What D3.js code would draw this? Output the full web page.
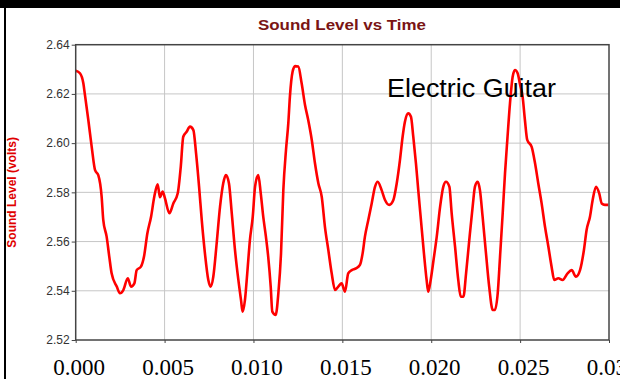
<html>
<head>
    <title>Sound Level vs Time</title>
    <script src="https://cdn.jsdelivr.net/npm/d3@7"></script>
    <style>
        body { margin: 0; background: #fff; }
        svg { display: block; }
    </style>
</head>
<body>
<div id="graph"></div>
<script>
    // time (s) and sound level (volts)
    const times = [
        0.00000, 0.00024, 0.00043, 0.00052, 0.00071, 0.00090, 0.00109, 0.00127, 0.00146, 0.00155,
        0.00174, 0.00189, 0.00202, 0.00231, 0.00249, 0.00268, 0.00293, 0.00311, 0.00330, 0.00343,
        0.00367, 0.00384, 0.00403, 0.00424, 0.00442, 0.00461, 0.00474, 0.00489, 0.00502, 0.00527,
        0.00549, 0.00574, 0.00591, 0.00605, 0.00624, 0.00643, 0.00662, 0.00677, 0.00694, 0.00709,
        0.00727, 0.00746, 0.00759, 0.00774, 0.00793, 0.00812, 0.00830, 0.00845, 0.00862, 0.00878,
        0.00896, 0.00915, 0.00930, 0.00939, 0.00952, 0.00965, 0.00980, 0.00996, 0.01009, 0.01027,
        0.01041, 0.01055, 0.01070, 0.01083, 0.01097, 0.01106, 0.01125, 0.01140, 0.01155, 0.01168,
        0.01183, 0.01196, 0.01205, 0.01220, 0.01234, 0.01252, 0.01271, 0.01290, 0.01308, 0.01328,
        0.01346, 0.01365, 0.01384, 0.01402, 0.01421, 0.01440, 0.01459, 0.01477, 0.01496, 0.01515,
        0.01533, 0.01553, 0.01577, 0.01599, 0.01614, 0.01627, 0.01646, 0.01665, 0.01684, 0.01699,
        0.01721, 0.01740, 0.01764, 0.01787, 0.01806, 0.01824, 0.01839, 0.01852, 0.01871, 0.01886,
        0.01899, 0.01914, 0.01927, 0.01942, 0.01959, 0.01974, 0.01983, 0.01997, 0.02012, 0.02031,
        0.02050, 0.02068, 0.02083, 0.02102, 0.02115, 0.02134, 0.02152, 0.02166, 0.02181, 0.02196,
        0.02214, 0.02233, 0.02246, 0.02261, 0.02274, 0.02289, 0.02308, 0.02326, 0.02346, 0.02358,
        0.02374, 0.02387, 0.02402, 0.02415, 0.02428, 0.02443, 0.02458, 0.02471, 0.02486, 0.02499,
        0.02514, 0.02527, 0.02540, 0.02565, 0.02584, 0.02602, 0.02621, 0.02640, 0.02659, 0.02677,
        0.02692, 0.02715, 0.02739, 0.02767, 0.02790, 0.02814, 0.02837, 0.02859, 0.02874, 0.02893,
        0.02908, 0.02927, 0.02945, 0.02959, 0.02977, 0.02996
    ];
    const volts = [
        2.6294, 2.6284, 2.6243, 2.6196, 2.6094, 2.5985, 2.5890, 2.5870, 2.5782, 2.5688,
        2.5620, 2.5538, 2.5471, 2.5417, 2.5390, 2.5403, 2.5451, 2.5417, 2.5430, 2.5484,
        2.5498, 2.5538, 2.5633, 2.5701, 2.5782, 2.5833, 2.5780, 2.5803, 2.5776, 2.5715,
        2.5755, 2.5796, 2.5904, 2.6026, 2.6046, 2.6067, 2.6053, 2.5959, 2.5823, 2.5688,
        2.5552, 2.5444, 2.5417, 2.5457, 2.5593, 2.5742, 2.5837, 2.5870, 2.5837, 2.5715,
        2.5566, 2.5444, 2.5362, 2.5315, 2.5362, 2.5471, 2.5606, 2.5701, 2.5823, 2.5870,
        2.5796, 2.5701, 2.5620, 2.5538, 2.5417, 2.5315, 2.5302, 2.5390, 2.5552, 2.5809,
        2.5972, 2.6081, 2.6189, 2.6290, 2.6313, 2.6311, 2.6243, 2.6155, 2.6094, 2.6013,
        2.5918, 2.5837, 2.5782, 2.5660, 2.5566, 2.5471, 2.5403, 2.5417, 2.5430, 2.5396,
        2.5471, 2.5484, 2.5491, 2.5505, 2.5552, 2.5620, 2.5688, 2.5755, 2.5823, 2.5843,
        2.5809, 2.5769, 2.5749, 2.5769, 2.5837, 2.5931, 2.6026, 2.6087, 2.6121, 2.6107,
        2.6026, 2.5918, 2.5809, 2.5688, 2.5552, 2.5444, 2.5396, 2.5444, 2.5520, 2.5620,
        2.5742, 2.5823, 2.5843, 2.5823, 2.5715, 2.5579, 2.5444, 2.5376, 2.5376, 2.5471,
        2.5606, 2.5742, 2.5823, 2.5843, 2.5809, 2.5701, 2.5552, 2.5417, 2.5322, 2.5322,
        2.5390, 2.5538, 2.5715, 2.5877, 2.6013, 2.6162, 2.6270, 2.6297, 2.6284, 2.6240,
        2.6189, 2.6094, 2.6013, 2.5985, 2.5918, 2.5837, 2.5755, 2.5660, 2.5579, 2.5498,
        2.5444, 2.5451, 2.5444, 2.5471, 2.5484, 2.5457, 2.5484, 2.5566, 2.5647, 2.5701,
        2.5769, 2.5823, 2.5796, 2.5755, 2.5749, 2.5749
    ];
    const xTicks = [0, 0.005, 0.010, 0.015, 0.020, 0.025, 0.030];
    const yTicks = [2.52, 2.54, 2.56, 2.58, 2.60, 2.62, 2.64];
    const title = "Sound Level vs Time";
    const yTitle = "Sound Level (volts)";
    const note = "Electric Guitar";

    const width = 620, height = 379;
    const margin = {top: 44.7, right: 11, bottom: 39, left: 75.7};

    const x = d3.scaleLinear().domain([0, 0.03]).range([margin.left, width - margin.right]);
    const y = d3.scaleLinear().domain([2.52, 2.64]).range([height - margin.bottom, margin.top]);

    const svg = d3.select("#graph").append("svg")
        .attr("width", width)
        .attr("height", height);

    // outer frame (black band on top, thin line on the left)
    svg.append("rect").attr("x", 0).attr("y", 0).attr("width", width).attr("height", 8).attr("fill", "#000");
    svg.append("rect").attr("x", 4).attr("y", 0).attr("width", 2).attr("height", height).attr("fill", "#000");

    // grid
    const grid = svg.append("g").attr("stroke", "#c6c6c6").attr("stroke-width", 1);
    grid.selectAll("line.v")
        .data(xTicks.slice(1, -1))
        .join("line")
        .attr("class", "v")
        .attr("x1", d => x(d)).attr("x2", d => x(d))
        .attr("y1", y(2.64)).attr("y2", y(2.52));
    grid.selectAll("line.h")
        .data(yTicks.slice(1, -1))
        .join("line")
        .attr("class", "h")
        .attr("x1", x(0)).attr("x2", x(0.03))
        .attr("y1", d => y(d)).attr("y2", d => y(d));

    // trace
    const points = times.map((t, i) => [t, volts[i]]);
    svg.append("path")
        .datum(points)
        .attr("fill", "none")
        .attr("stroke", "#ff0000")
        .attr("stroke-width", 2.6)
        .attr("stroke-linejoin", "round")
        .attr("d", d3.line().x(d => x(d[0])).y(d => y(d[1])).curve(d3.curveMonotoneX));

    // plot frame
    svg.append("rect")
        .attr("x", x(0)).attr("y", y(2.64))
        .attr("width", x(0.03) - x(0)).attr("height", y(2.52) - y(2.64))
        .attr("fill", "none")
        .attr("stroke", "#444")
        .attr("stroke-width", 1.5);

    // y axis
    const yAxis = svg.append("g")
        .attr("transform", `translate(${x(0)},0)`)
        .call(d3.axisLeft(y).tickValues(yTicks).tickFormat(d3.format(".2f")).tickSize(4).tickPadding(2));
    yAxis.select(".domain").remove();
    yAxis.selectAll("line").attr("stroke", "#444");
    yAxis.selectAll("text")
        .attr("font-family", "Liberation Sans, Arial, sans-serif")
        .attr("font-size", 12)
        .attr("fill", "#333");

    // x axis (last label runs off the page, as in the original)
    const xAxis = svg.append("g")
        .attr("transform", `translate(0,${y(2.52)})`)
        .call(d3.axisBottom(x).tickValues(xTicks).tickFormat(d3.format(".3f")).tickSize(3).tickPadding(16));
    xAxis.select(".domain").remove();
    xAxis.selectAll("line").attr("stroke", "#444");
    xAxis.selectAll("text")
        .attr("font-family", "Liberation Serif, Times New Roman, serif")
        .attr("font-size", 23)
        .attr("dx", 3)
        .attr("fill", "#000");

    // titles
    svg.append("text")
        .attr("x", 342).attr("y", 30)
        .attr("text-anchor", "middle")
        .attr("font-family", "Liberation Sans, Arial, sans-serif")
        .attr("font-weight", "bold")
        .attr("font-size", 15)
        .attr("textLength", 168)
        .attr("lengthAdjust", "spacingAndGlyphs")
        .attr("fill", "#7a1414")
        .text(title);

    svg.append("text")
        .attr("transform", `translate(16,${(y(2.64) + y(2.52)) / 2}) rotate(-90)`)
        .attr("text-anchor", "middle")
        .attr("font-family", "Liberation Sans, Arial, sans-serif")
        .attr("font-weight", "bold")
        .attr("font-size", 12)
        .attr("fill", "#e00000")
        .text(yTitle);

    svg.append("text")
        .attr("x", 387).attr("y", 97)
        .attr("font-family", "Liberation Sans, Arial, sans-serif")
        .attr("font-size", 25)
        .attr("textLength", 169)
        .attr("lengthAdjust", "spacingAndGlyphs")
        .attr("fill", "#000")
        .text(note);
</script>
</body>
</html>
